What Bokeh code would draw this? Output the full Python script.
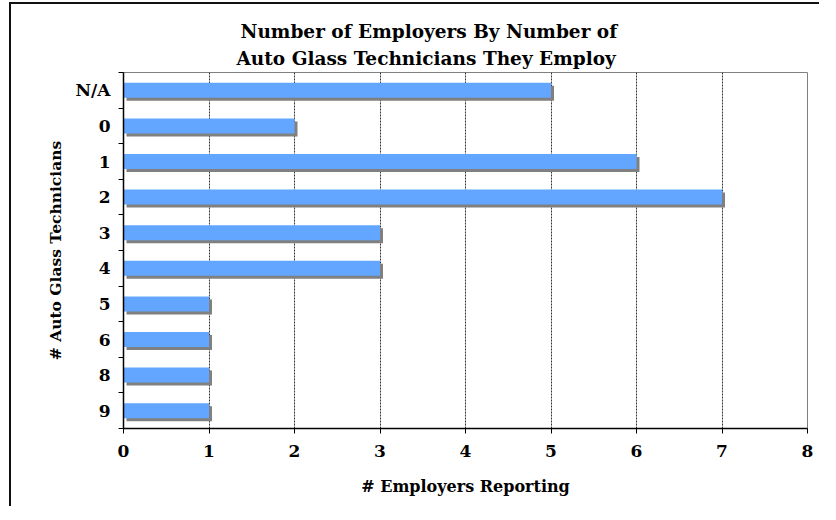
from bokeh.plotting import figure
from bokeh.models import (Range1d, FixedTicker, Title, LinearAxis, ColumnDataSource, Grid)
from bokeh.embed import file_html
from bokeh.resources import INLINE

# ---- data ----
categories = ["N/A", "0", "1", "2", "3", "4", "5", "6", "8", "9"]
employers = [5, 2, 6, 7, 3, 3, 1, 1, 1, 1]
x_ticks = [0, 1, 2, 3, 4, 5, 6, 7, 8]
title_line1 = "Number of Employers By Number of"
title_line2 = "Auto Glass Technicians They Employ"
x_label = "# Employers Reporting"
y_label = "# Auto Glass Technicians"

# ---- style ----
FONT = "DejaVu Serif"
BAR = "#62A6FF"
SHADOW = "#808080"
W, H = 810, 504
FRAME_L, FRAME_R, FRAME_T, FRAME_B = 112, 14, 68, 80
X_MAX = x_ticks[-1]
n = len(categories)
frame_w = W - FRAME_L - FRAME_R
frame_h = H - FRAME_T - FRAME_B
dx = 3.0 * X_MAX / frame_w      # 3 px shadow offset in data units
dy = 3.0 * n / frame_h

idx = list(range(n))
src = ColumnDataSource(dict(y=idx, right=employers, cat=categories))
shadow = ColumnDataSource(dict(y=[i + dy for i in idx],
                               left=[dx] * n,
                               right=[v + dx for v in employers]))

p = figure(width=W, height=H, output_backend="svg", toolbar_location=None,
           x_range=Range1d(0, X_MAX), y_range=Range1d(n - 0.5, -0.5),
           min_border_left=FRAME_L, min_border_right=FRAME_R,
           min_border_top=FRAME_T, min_border_bottom=FRAME_B,
           x_axis_type=None, y_axis_type=None, title=None)
p.background_fill_color = "white"
p.border_fill_color = "white"
p.outline_line_color = "#808080"
p.outline_line_width = 1
p.styles = {"border-left": "2px solid #111", "border-top": "2px solid #111",
            "margin-left": "9px", "margin-top": "2px"}

# grid
grid = Grid(dimension=0, ticker=FixedTicker(ticks=x_ticks[1:-1]),
            grid_line_color="#333333", grid_line_dash="2 1", grid_line_width=1)
p.add_layout(grid)

# bars
p.hbar(y="y", left="left", right="right", height=0.42, source=shadow,
       fill_color=SHADOW, line_color=None)
p.hbar(y="y", left=0, right="right", height=0.42, source=src,
       fill_color=BAR, line_color=None)

# x axis
xa = LinearAxis(ticker=FixedTicker(ticks=x_ticks), axis_label=x_label)
xa.axis_line_color = "black"
xa.axis_line_width = 1.5
xa.major_tick_out = 5
xa.major_tick_in = 0
xa.major_tick_line_color = "black"
xa.minor_tick_line_color = None
xa.major_label_standoff = 11
xa.major_label_text_font = FONT
xa.major_label_text_font_style = "bold"
xa.major_label_text_font_size = "17px"
xa.major_label_text_color = "black"
xa.axis_label_standoff = 17
xa.axis_label_text_font = FONT
xa.axis_label_text_font_style = "bold"
xa.axis_label_text_font_size = "16px"
xa.axis_label_text_color = "black"
p.add_layout(xa, "below")

# y axis
ya = LinearAxis(ticker=FixedTicker(ticks=idx, minor_ticks=[i - 0.5 for i in range(n + 1)]),
                axis_label=y_label)
ya.major_label_overrides = {i: c for i, c in zip(idx, categories)}
ya.axis_line_color = "black"
ya.axis_line_width = 1.5
ya.major_tick_out = 0
ya.major_tick_in = 0
ya.major_tick_line_color = None
ya.minor_tick_out = 5
ya.minor_tick_in = 0
ya.minor_tick_line_color = "black"
ya.major_label_standoff = 8
ya.major_label_text_font = FONT
ya.major_label_text_font_style = "bold"
ya.major_label_text_font_size = "17px"
ya.major_label_text_color = "black"
ya.axis_label_standoff = 8
ya.axis_label_text_font = FONT
ya.axis_label_text_font_style = "bold"
ya.axis_label_text_font_size = "15.5px"
ya.axis_label_text_color = "black"
p.add_layout(ya, "left")

# title (two lines; first added sits closest to plot)
for t, off, so in ((title_line2, 113, 7), (title_line1, 117, 1)):
    p.add_layout(Title(text=t, align="left", offset=off, text_font=FONT,
                       text_font_style="bold", text_font_size="18.5px",
                       text_color="black", standoff=so), "above")

open("out.html", "w").write(file_html(p, INLINE))
